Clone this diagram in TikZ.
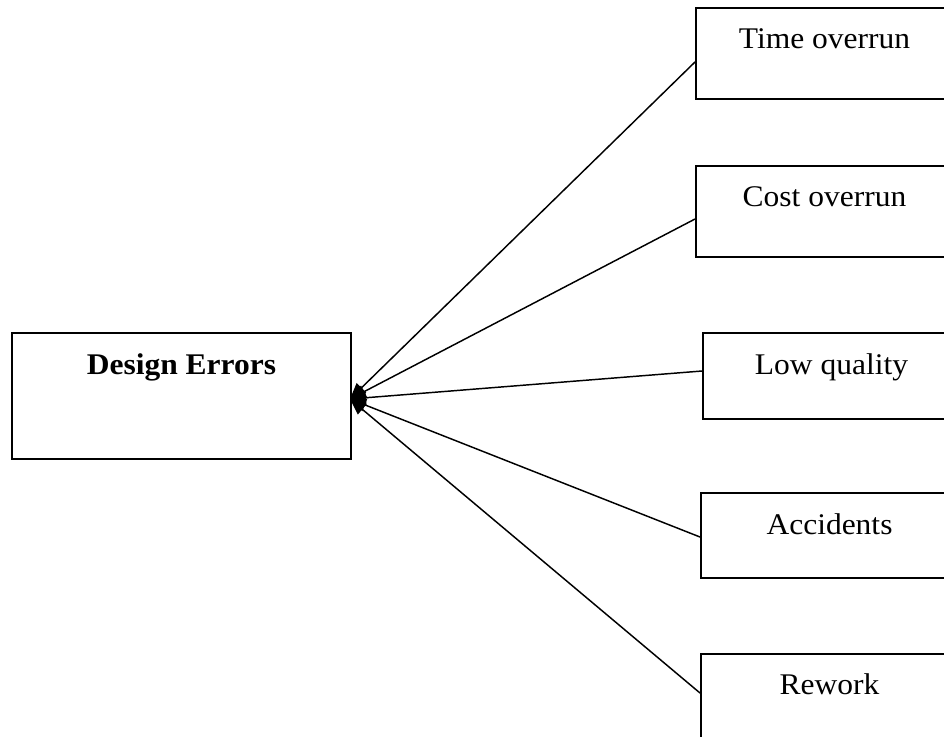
\documentclass[tikz,border=0pt]{standalone}
\usepackage{fontspec}
\setmainfont{Liberation Serif}[FakeStretch=1.05]
\usetikzlibrary{arrows.meta}

\tikzset{every picture/.style={line width=0.75pt}}
\tikzset{
  effbox/.style={draw, rectangle, line width=1.5pt, anchor=north west, inner sep=0pt,
    minimum width=192.75pt, text height=30pt, text depth=38.25pt,
    font=\fontsize{22.5}{25}\selectfont},
  effarrow/.style={line width=1.1pt, -{Triangle[length=12pt,width=10pt]}}
}

\begin{document}
\begin{tikzpicture}[x=0.75pt,y=0.75pt,yscale=-1,xscale=1]
\useasboundingbox (0,0) rectangle (944,736);
\clip (0,0) rectangle (944,736);

%Cause box
\node [effbox, minimum width=254.25pt, text height=30.75pt, text depth=63.75pt,
  font=\fontsize{22.5}{25}\selectfont\bfseries] (design) at (11,332) {Design Errors};

%Effect boxes
\node [effbox] (time) at (695,7) {Time overrun};
\node [effbox] (cost) at (695,165) {Cost overrun};
\node [effbox, text height=30.75pt, text depth=33.75pt] (quality) at (702,332) {Low quality};
\node [effbox, text height=30.75pt, text depth=33pt] (accidents) at (700,492) {Accidents};
\node [effbox, text depth=45pt] (rework) at (700,653) {Rework};

%Common arrow tip
\coordinate (tip) at (350,399);

%Straight Lines
\draw [effarrow] (time.west |- 0,62) -- (tip);
\draw [effarrow] (cost.west |- 0,219) -- (tip);
\draw [effarrow] (quality.west |- 0,371) -- (tip);
\draw [effarrow] (accidents.west |- 0,537) -- (tip);
\draw [effarrow] (rework.west |- 0,693) -- (tip);

\end{tikzpicture}
\end{document}
